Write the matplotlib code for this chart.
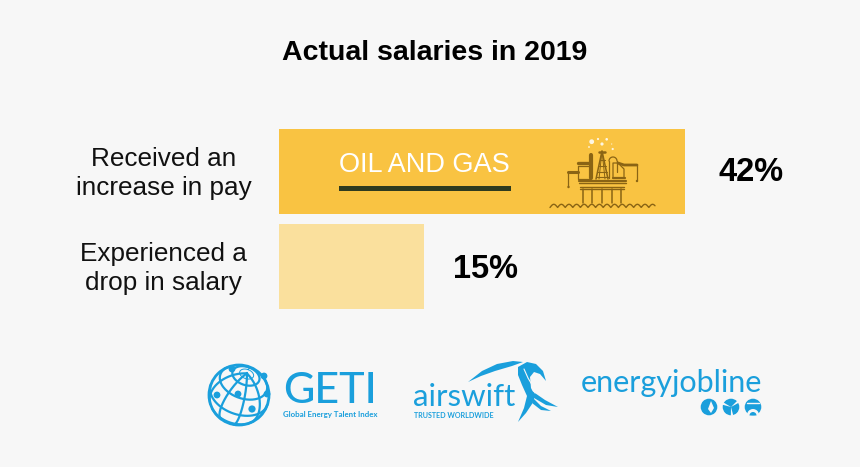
import numpy as np
import matplotlib
matplotlib.use("Agg")
import matplotlib.pyplot as plt
from matplotlib.patches import Circle, Polygon, Rectangle, Wedge

categories = ["Received an\nincrease in pay", "Experienced a\ndrop in salary"]
values = [42, 15]
bar_colors = ["#f9c342", "#fae09d"]
value_labels = ["42%", "15%"]

BG = "#f7f7f7"
BLUE = "#1a9fdc"
RIG = "#8a6414"

plt.rcParams["font.family"] = ["Liberation Sans", "DejaVu Sans"]

fig = plt.figure(figsize=(8.6, 4.67), dpi=100, facecolor=BG)

# bars: axes box is worked out from pixel positions in the reference
ax = fig.add_axes([279 / 860, 1 - 314 / 467, 406 / 860, 190 / 467])
ax.barh(range(len(values)), values, height=0.895, color=bar_colors)
ax.set_xlim(0, 42)
ax.set_ylim(1.5, -0.5)
ax.axis("off")

# label offsets differ a little between the two rows in the reference
value_offsets = [(24, -1), (21, -2)]
label_offsets = [(-83, -1.5), (-83, -1.5)]
for i, v in enumerate(values):
    ax.annotate(value_labels[i], (v, i), xytext=value_offsets[i], textcoords="offset points",
                va="center", ha="left", fontsize=23.5, fontweight="bold", color="black",
                annotation_clip=False)
    ax.annotate(categories[i], (0, i), xytext=label_offsets[i], textcoords="offset points",
                va="center", ha="center", fontsize=18.8, color="#111111",
                linespacing=1.22, annotation_clip=False)

# overlay in pixel coordinates for title and logos
ov = fig.add_axes([0, 0, 1, 1], zorder=5)
ov.set_xlim(0, 860)
ov.set_ylim(467, 0)
ov.axis("off")

ov.text(434.5, 53, "Actual salaries in 2019", ha="center", va="center",
        fontsize=20.5, fontweight="bold", color="black")

# oil and gas tag
ov.text(424.5, 165, "OIL AND GAS", ha="center", va="center", fontsize=19.5, color="white")
ov.add_patch(Rectangle((339, 186), 172, 5, color="#2f3b1f", lw=0))


def line(xs, ys, lw=1.0, color=RIG):
    ov.plot(xs, ys, color=color, lw=lw, solid_capstyle="round")


# rig icon
wx = np.linspace(550, 655, 400)
wy = 207.5 - 3.2 * np.abs(np.sin((wx - 550) / 7.6 * np.pi))
line(wx, wy, 1.0)
for x0 in [583, 592, 602, 612, 621]:
    line([x0, x0], [189, 203], 1.1)
line([579, 626], [180.5, 180.5], 1.6)
line([579, 626], [183, 183], 1.0)
line([580, 624], [186.5, 186.5], 1.0)
line([580, 624], [189, 189], 1.0)
# tower
line([596, 602, 608], [179, 151, 179], 1.1)
line([599, 602, 605], [179, 151, 179], 0.7)
for y, hw in [(160, 2.5), (166, 3.5), (172, 4.8), (177, 6.5)]:
    line([602 - hw, 602 + hw], [y, y], 0.8)
line([599, 605], [152, 152], 1.8)
# left block and crane
line([578, 578, 590], [166, 179, 179], 0.9)
line([578, 590], [166, 166], 0.9)
line([578, 590], [163, 163], 2.4)
line([591, 591], [155, 178], 3.0)
line([568, 578], [172, 172], 2.2)
line([568, 568], [172, 186], 0.9)
ov.add_patch(Circle((568.5, 187), 1.2, color=RIG, lw=0))
# right block and crane
t = np.linspace(np.pi, 2 * np.pi, 30)
line(613 + 4 * np.cos(t), 161 + 4 * np.sin(t), 0.9)
line([609, 609], [161, 178], 0.9)
line([617, 617], [161, 172], 0.9)
line([613, 613, 618, 624, 624], [178, 163, 163, 169, 178], 0.9)
line([613, 625], [177.5, 177.5], 1.6)
line([618, 624, 637], [163, 165, 165], 2.0)
line([637, 637], [165, 180], 0.9)
ov.add_patch(Circle((637, 181), 1.2, color=RIG, lw=0))
# sparks
for sx, sy, sr in [(591.7, 141.7, 2.4), (598, 139, 1.1), (602, 144, 1.6), (606.7, 139.3, 1.3),
                   (589, 147, 0.9), (611.7, 144, 0.6), (612.7, 149, 1.1)]:
    ov.add_patch(Circle((sx, sy), sr, color="#fdf6e3", lw=0))

# GETI globe, orthographic projection
gx, gy, gr = 239, 395, 30
ov.add_patch(Circle((gx, gy), gr, fill=False, ec=BLUE, lw=2.0))
tilt = np.radians(40)
roll = np.radians(20)


def project(lat, lon):
    x = np.cos(lat) * np.sin(lon)
    y = np.sin(lat)
    z = np.cos(lat) * np.cos(lon)
    y2 = y * np.cos(tilt) - z * np.sin(tilt)
    z2 = y * np.sin(tilt) + z * np.cos(tilt)
    x2 = x * np.cos(roll) + y2 * np.sin(roll)
    y3 = -x * np.sin(roll) + y2 * np.cos(roll)
    return gx + gr * x2, gy - gr * y3, z2


for lat_deg in [-35, 0, 35, 62, 76]:
    lon = np.linspace(-np.pi, np.pi, 200)
    px, py, pz = project(np.radians(lat_deg) * np.ones_like(lon), lon)
    px[pz < 0] = np.nan
    ov.plot(px, py, color=BLUE, lw=1.6 if lat_deg < 70 else 0.7)
for lon_deg in [-65, -25, 15, 55]:
    lat = np.linspace(-np.pi / 2, np.pi / 2, 200)
    px, py, pz = project(lat, np.radians(lon_deg) * np.ones_like(lat))
    px[pz < 0] = np.nan
    ov.plot(px, py, color=BLUE, lw=1.6)
for nx, ny, nr in [(232, 369, 3.4), (264, 376, 3.4), (217, 395, 3.4), (238, 394, 3.4),
                   (267, 394, 3.4), (252, 409, 3.6)]:
    ov.add_patch(Circle((nx, ny), nr, color=BLUE, lw=0))

ov.text(283, 403, "GETI", ha="left", va="baseline", fontsize=31, color=BLUE,
        fontfamily="Lato", fontweight="medium")
ov.text(283, 417, "Global Energy Talent Index", ha="left", va="baseline", fontsize=5.7,
        fontweight="bold", color=BLUE, fontfamily="Lato")

# airswift
ov.text(413, 406, "airswift", ha="left", va="baseline", fontsize=22.5, color=BLUE,
        fontfamily="Lato")
ov.text(414, 418, "TRUSTED WORLDWIDE", ha="left", va="baseline", fontsize=5.1,
        fontweight="bold", color=BLUE, fontfamily="Lato")
ov.add_patch(Polygon([(468, 382), (482, 371), (497, 364), (513, 361), (523, 362),
                      (512, 366), (495, 371), (481, 376)], color=BLUE, lw=0))
ov.add_patch(Polygon([(518, 367), (527, 362), (536, 364), (543, 371), (546, 381),
                      (540, 374), (534, 372), (530, 377), (531, 388), (535, 396),
                      (532, 404), (526, 413), (518, 422), (524, 408), (527, 396),
                      (522, 385), (518, 375)], color=BLUE, lw=0))
line([524, 528, 534, 535], [369, 378, 388, 393], 0.8, BG)
ov.add_patch(Polygon([(532, 391), (545, 400), (558, 407), (546, 405), (534, 398)],
                     color=BLUE, lw=0))
ov.add_patch(Polygon([(533, 398), (541, 406), (551, 411), (541, 410), (532, 403)],
                     color=BLUE, lw=0))

# energyjobline
ov.text(581, 392, "energyjobline", ha="left", va="baseline", fontsize=22, color=BLUE,
        fontfamily="Lato")
for cx in [709, 731, 753]:
    ov.add_patch(Circle((cx, 407), 8.3, color=BLUE, lw=0))
ov.add_patch(Polygon([(711, 401), (714, 408), (711, 413), (708, 409)], color=BG, lw=0))
for a in [75, 195, 315]:
    ov.add_patch(Wedge((731, 407), 9, a, a + 16, color=BG, lw=0))
ov.add_patch(Wedge((753, 415), 6, 180, 360, color=BG, lw=0))
ov.add_patch(Wedge((753, 415.5), 3.5, 180, 360, color=BLUE, lw=0))
line([747, 759], [403, 403], 1.0, BG)

fig.savefig("out.png", dpi=100, facecolor=BG)
